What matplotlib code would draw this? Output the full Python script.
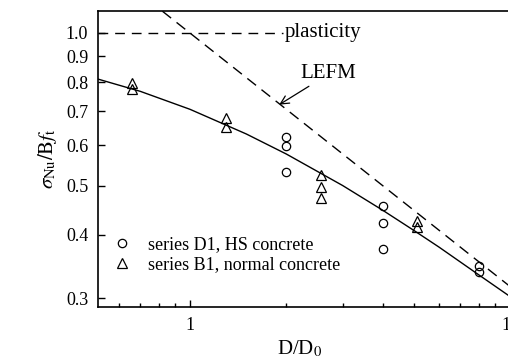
import numpy as np
import matplotlib.pyplot as plt
from matplotlib.ticker import FixedLocator, NullFormatter, LogLocator, FixedFormatter

plt.rcParams['font.family'] = ['Liberation Serif', 'DejaVu Serif']
plt.rcParams['mathtext.fontset'] = 'stix'

# series D1, HS concrete (circles)
d1_x = [2, 2, 2, 4, 4, 4, 8, 8]
d1_y = [0.624, 0.598, 0.532, 0.456, 0.422, 0.375, 0.347, 0.338]

# series B1, normal concrete (triangles)
b1_x = [0.66, 0.66, 1.3, 1.3, 2.57, 2.57, 2.57, 5.12, 5.12]
b1_y = [0.795, 0.775, 0.68, 0.652, 0.525, 0.497, 0.473, 0.425, 0.415]

# size effect curve
curve_x = [0.516, 0.7, 1.0, 1.5, 2.0, 3.0, 4.0, 5.0, 6.0, 8.0, 10.0, 10.74]
curve_y = [0.811, 0.767, 0.707, 0.632, 0.577, 0.500, 0.447, 0.408, 0.378, 0.333, 0.302, 0.292]

# LEFM asymptote (two end points) and plasticity limit
lefm_x = [0.82, 10.74]
lefm_y = [1.104, 0.305]
plast_x = [0.516, 1.95]
plast_y = [1.0, 1.0]

yticks = [0.3, 0.4, 0.5, 0.6, 0.7, 0.8, 0.9, 1.0]

fig = plt.figure(figsize=(5.08, 3.61), dpi=100)
ax = fig.add_axes([98/508, 54/361, 422/508, 296/361])

ax.plot(curve_x, curve_y, color='black', lw=1.0)
ax.plot(lefm_x, lefm_y, color='black', lw=1.0, dashes=(8, 5))
ax.plot(plast_x, plast_y, color='black', lw=1.0, dashes=(7, 5))
ax.plot(d1_x, d1_y, 'o', mfc='none', mec='black', ms=6, mew=0.9,
        label='series D1, HS concrete')
ax.plot(b1_x, b1_y, '^', mfc='none', mec='black', ms=6.5, mew=0.9,
        label='series B1, normal concrete')

ax.set_xscale('log')
ax.set_yscale('log')
ax.set_xlim(0.516, 10.74)
ax.set_ylim(0.288, 1.105)

ax.yaxis.set_major_locator(FixedLocator(yticks))
ax.yaxis.set_major_formatter(FixedFormatter(['%.1f' % t for t in yticks]))
ax.yaxis.set_minor_locator(FixedLocator([]))
ax.xaxis.set_major_locator(FixedLocator([1, 10]))
ax.xaxis.set_major_formatter(FixedFormatter(['1', '10']))
ax.xaxis.set_minor_locator(LogLocator(base=10, subs=np.arange(2, 10)))
ax.xaxis.set_minor_formatter(NullFormatter())

ax.tick_params(which='both', direction='in', labelsize=13, width=1.0)
ax.tick_params(which='major', length=5)
ax.tick_params(which='minor', length=3)
ax.tick_params(axis='x', pad=7)
ax.tick_params(axis='y', pad=7)
for s in ax.spines.values():
    s.set_linewidth(1.2)

ax.text(1.97, 1.0, 'plasticity', fontsize=15, va='center', ha='left')
ax.annotate('LEFM', xy=(1.9, 0.722), xytext=(2.22, 0.83), fontsize=15,
            va='center', ha='left',
            arrowprops=dict(arrowstyle='->', color='black', lw=0.9,
                            shrinkA=0, shrinkB=0))

ax.legend(loc='lower left', bbox_to_anchor=(0.036, 0.115), frameon=False,
          fontsize=13, handlelength=1.0, handletextpad=0.93,
          labelspacing=0.15, borderpad=0, borderaxespad=0)

ax.set_ylabel(r'$\sigma_{\mathrm{Nu}}/\mathrm{B}f_{\mathrm{t}}$', fontsize=15, labelpad=5)
fig.text(300/508, 1 - 349/361, r'D/D$_0$', fontsize=15, ha='center', va='center')

fig.savefig('out.png', dpi=100)
